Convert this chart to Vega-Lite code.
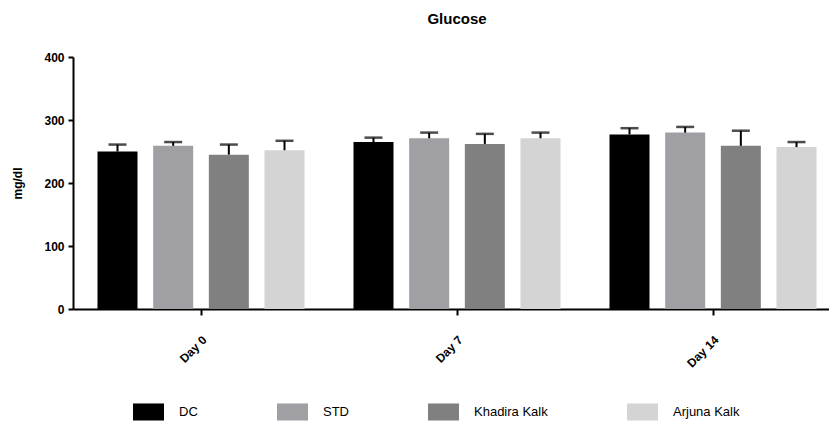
{
  "$schema": "https://vega.github.io/schema/vega-lite/v6.json",
  "width": 768,
  "height": 252,
  "padding": {"left": 11, "top": 12, "right": 0, "bottom": 0},
  "background": "white",
  "config": {"font": "Liberation Sans", "view": {"stroke": null}},
  "title": {"text": "Glucose", "fontSize": 15, "fontWeight": "bold", "anchor": "middle", "offset": 24, "color": "black", "dx": 0},
  "data": {"values": [
    {"day": "Day 0", "group": "DC", "mean": 250, "upper": 261},
    {"day": "Day 0", "group": "STD", "mean": 259, "upper": 265},
    {"day": "Day 0", "group": "Khadira Kalk", "mean": 245, "upper": 261},
    {"day": "Day 0", "group": "Arjuna Kalk", "mean": 252, "upper": 267},
    {"day": "Day 7", "group": "DC", "mean": 265, "upper": 272},
    {"day": "Day 7", "group": "STD", "mean": 271, "upper": 280},
    {"day": "Day 7", "group": "Khadira Kalk", "mean": 262, "upper": 278},
    {"day": "Day 7", "group": "Arjuna Kalk", "mean": 271, "upper": 280},
    {"day": "Day 14", "group": "DC", "mean": 277, "upper": 287},
    {"day": "Day 14", "group": "STD", "mean": 280, "upper": 289},
    {"day": "Day 14", "group": "Khadira Kalk", "mean": 259, "upper": 283},
    {"day": "Day 14", "group": "Arjuna Kalk", "mean": 257, "upper": 265}
  ]},
  "encoding": {
    "x": {
      "field": "day", "type": "nominal", "sort": ["Day 0", "Day 7", "Day 14"],
      "scale": {"paddingInner": 0, "paddingOuter": 0},
      "axis": {"title": null, "labelAngle": -45, "labelFontWeight": "bold", "labelFontSize": 12, "labelColor": "black",
               "domainColor": "black", "domainWidth": 2, "tickColor": "black", "tickWidth": 2, "tickSize": 6, "labelPadding": 19}
    },
    "xOffset": {
      "field": "group", "type": "nominal", "sort": ["DC", "STD", "Khadira Kalk", "Arjuna Kalk"],
      "scale": {"paddingInner": 0.2814, "paddingOuter": 0.44}
    }
  },
  "layer": [
    {
      "mark": {"type": "bar"},
      "encoding": {
        "y": {"field": "mean", "type": "quantitative", "title": "mg/dl",
              "scale": {"domain": [0, 400]},
              "axis": {"values": [0, 100, 200, 300, 400], "grid": false, "domainColor": "black", "domainWidth": 2,
                       "tickColor": "black", "tickWidth": 2, "tickSize": 5, "labelFontSize": 12, "labelFontWeight": "bold",
                       "labelColor": "black", "labelPadding": 4, "titleFontSize": 12, "titleFontWeight": "bold",
                       "titleColor": "black", "titlePadding": 19}},
        "color": {
          "field": "group", "type": "nominal", "sort": ["DC", "STD", "Khadira Kalk", "Arjuna Kalk"],
          "scale": {"domain": ["DC", "STD", "Khadira Kalk", "Arjuna Kalk"], "range": ["#000000", "#a0a0a4", "#808080", "#d4d4d4"]},
          "legend": {"title": null, "orient": "none", "legendX": 60, "legendY": 339, "direction": "horizontal",
                     "symbolType": "M-1,-0.55H1V0.55H-1Z", "symbolSize": 961, "symbolStrokeWidth": 0, "symbolOpacity": 1,
                     "labelFontSize": 13, "labelColor": "black", "columnPadding": 79, "labelOffset": 15, "padding": 0}
        }
      }
    },
    {
      "mark": {"type": "rule", "strokeWidth": 2, "color": "black"},
      "encoding": {
        "y": {"field": "mean", "type": "quantitative", "title": "mg/dl"},
        "y2": {"field": "upper"}
      }
    },
    {
      "mark": {"type": "tick", "thickness": 2.5, "size": 18, "color": "black"},
      "encoding": {
        "y": {"field": "upper", "type": "quantitative", "title": "mg/dl"}
      }
    }
  ]
}
